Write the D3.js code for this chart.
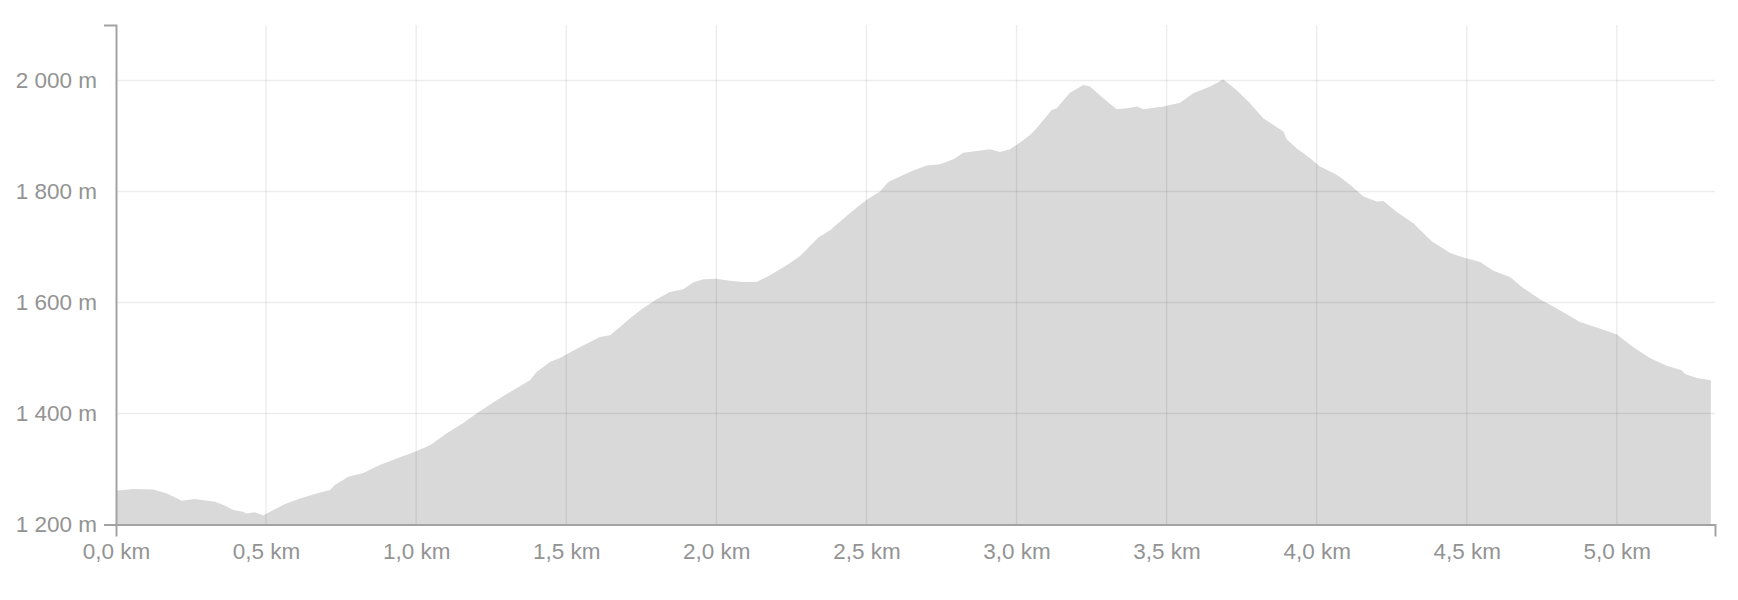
<!DOCTYPE html>
<html>
<head>
<meta charset="utf-8">
<script src="https://cdn.jsdelivr.net/npm/d3@7"></script>
<style>
  html, body { margin: 0; padding: 0; background: #fff; }
  svg { display: block; }
  .tick text { font-family: "Liberation Sans", Arial, sans-serif; }
</style>
</head>
<body>
<svg id="chart" width="1738" height="600"></svg>
<script>
// Distance along route (km)
const distanceKm = [
  0.000, 0.058, 0.124, 0.170, 0.219, 0.263, 0.330, 0.358, 0.391, 0.424,
  0.435, 0.463, 0.490, 0.524, 0.563, 0.613, 0.668, 0.713, 0.729, 0.774,
  0.824, 0.879, 0.935, 0.996, 1.046, 1.101, 1.157, 1.201, 1.268, 1.323,
  1.379, 1.401, 1.446, 1.479, 1.546, 1.612, 1.646, 1.679, 1.712, 1.751,
  1.801, 1.845, 1.890, 1.923, 1.956, 2.000, 2.045, 2.090, 2.134, 2.179,
  2.234, 2.279, 2.340, 2.379, 2.423, 2.468, 2.501, 2.545, 2.573, 2.612,
  2.656, 2.701, 2.745, 2.790, 2.823, 2.868, 2.911, 2.945, 2.978, 3.011,
  3.045, 3.067, 3.117, 3.134, 3.178, 3.223, 3.245, 3.289, 3.334, 3.367,
  3.401, 3.423, 3.489, 3.545, 3.589, 3.645, 3.689, 3.733, 3.778, 3.822,
  3.889, 3.900, 3.933, 3.978, 4.011, 4.067, 4.111, 4.156, 4.200, 4.222,
  4.267, 4.322, 4.384, 4.445, 4.489, 4.545, 4.588, 4.644, 4.688, 4.744,
  4.810, 4.877, 4.943, 4.999, 5.054, 5.110, 5.166, 5.216, 5.227, 5.266,
  5.313
];
// Elevation (m)
const elevationM = [
  1261, 1264, 1263, 1256, 1243, 1246, 1241, 1235, 1226, 1223,
  1220, 1222, 1216, 1226, 1237, 1247, 1256, 1262, 1271, 1286,
  1293, 1307, 1319, 1331, 1343, 1364, 1383, 1400, 1424, 1442,
  1460, 1475, 1493, 1500, 1520, 1538, 1541, 1556, 1571, 1588,
  1606, 1619, 1624, 1636, 1642, 1643, 1639, 1637, 1637, 1649,
  1667, 1684, 1717, 1730, 1751, 1771, 1785, 1800, 1817, 1827,
  1838, 1847, 1849, 1858, 1870, 1873, 1876, 1871, 1876, 1888,
  1902, 1914, 1947, 1950, 1978, 1992, 1989, 1968, 1948, 1950,
  1953, 1948, 1953, 1960, 1977, 1989, 2002, 1983, 1959, 1932,
  1908, 1894, 1878, 1860, 1845, 1830, 1812, 1791, 1782, 1783,
  1763, 1743, 1710, 1689, 1681, 1673, 1657, 1646, 1626, 1606,
  1586, 1565, 1553, 1543, 1520, 1500, 1486, 1478, 1471, 1464,
  1460
];
const xTicks = [0, 0.5, 1.0, 1.5, 2.0, 2.5, 3.0, 3.5, 4.0, 4.5, 5.0];
const yTicks = [1200, 1400, 1600, 1800, 2000];

const data = distanceKm.map((d, i) => ({ d, e: elevationM[i] }));

const margin = { left: 116, top: 25, right: 23, bottom: 75.5 };
const W = 1738, H = 600;
const svg = d3.select("#chart");

const x = d3.scaleLinear().domain([0, 5.327]).range([margin.left, W - margin.right]);
const y = d3.scaleLinear().domain([1200, 2100]).range([H - margin.bottom, margin.top]);

const loc = d3.formatLocale({ decimal: ",", thousands: " ", grouping: [3], currency: ["", ""] });
const fy = loc.format(",.0f");
const fx = loc.format(".1f");

// Area
const area = d3.area().x(p => x(p.d)).y0(y(1200)).y1(p => y(p.e));
svg.append("path").datum(data).attr("d", area).attr("fill", "#d9d9d9");

// Grid
const grid = svg.append("g").attr("stroke", "rgba(0,0,0,0.075)").attr("stroke-width", 1.4);
grid.selectAll("line.v").data(xTicks.filter(t => t > 0)).join("line")
  .attr("x1", d => x(d)).attr("x2", d => x(d))
  .attr("y1", y.range()[1]).attr("y2", y.range()[0]);
grid.selectAll("line.h").data(yTicks.filter(t => t > 1200)).join("line")
  .attr("x1", x.range()[0]).attr("x2", x.range()[1])
  .attr("y1", d => y(d)).attr("y2", d => y(d));

// Axes
const axisColor = "#a3a3a3";
const labelColor = "#939393";
const yAxis = svg.append("g").attr("transform", `translate(${margin.left},0)`)
  .call(d3.axisLeft(y).tickValues(yTicks).tickFormat(d => fy(d) + " m")
    .tickSizeInner(0).tickSizeOuter(12).tickPadding(19));
const xAxis = svg.append("g").attr("transform", `translate(0,${H - margin.bottom})`)
  .call(d3.axisBottom(x).tickValues(xTicks).tickFormat(d => fx(d) + " km")
    .tickSizeInner(0).tickSizeOuter(12).tickPadding(19));

[yAxis, xAxis].forEach(g => {
  g.select(".domain").attr("stroke", axisColor).attr("stroke-width", 2);
  g.selectAll(".tick line").remove();
  g.selectAll(".tick text").attr("fill", labelColor).attr("font-size", 22.5)
    .attr("font-family", "'Liberation Sans', Arial, sans-serif");
});
</script>
</body>
</html>
